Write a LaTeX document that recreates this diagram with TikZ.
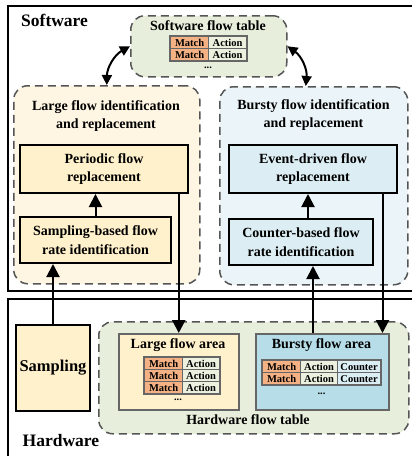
\documentclass[tikz,border=0pt]{standalone}
\usepackage{fontspec}
\setmainfont{Liberation Serif}
\usetikzlibrary{arrows.meta,calc}
\definecolor{swgreen}{HTML}{E8EEDC}
\definecolor{lfbg}{HTML}{FEF5E2}
\definecolor{bfbg}{HTML}{EBF4F8}
\definecolor{orbox}{HTML}{FFF1CC}
\definecolor{blbox}{HTML}{DCEEF4}
\definecolor{bfarea}{HTML}{B7DEE8}
\definecolor{matchc}{HTML}{F4B183}
\definecolor{actc}{HTML}{EBF1DE}
\definecolor{cntc}{HTML}{DBEEF4}
\definecolor{tgray}{HTML}{666666}
\definecolor{dgray}{HTML}{555555}
\begin{document}
\begin{tikzpicture}[x=1pt,y=-1pt,
  lbl/.style={font=\fontsize{14}{18.5}\selectfont\bfseries, align=center, inner sep=0pt},
  big/.style={font=\fontsize{17.5}{20}\selectfont\bfseries, inner sep=0pt},
  dbox/.style={draw=dgray, dash pattern=on 8pt off 5pt, line width=1.5pt, rounded corners=14pt, anchor=north west, inner sep=0pt},
  sbox/.style={draw=black, line width=2pt, anchor=north west, inner sep=0pt, align=center, font=\fontsize{14}{18.5}\selectfont\bfseries},
  abox/.style={draw=tgray, line width=1.5pt, anchor=north west, inner sep=0pt},
  cell/.style={draw=tgray, line width=1.2pt, minimum width=38pt, minimum height=12pt, inner sep=0pt, anchor=north west, font=\fontsize{10.5}{11}\selectfont\bfseries},
  tframe/.style={draw=tgray, line width=2pt},
  arr/.style={line width=2pt, -{Triangle[width=13pt,length=13pt]}},
  darr/.style={line width=2pt, {Triangle[width=10pt,length=10pt]}-{Triangle[width=10pt,length=10pt]}},
  dots/.style={font=\fontsize{10.5}{11}\selectfont\bfseries, inner sep=0pt}
]
\useasboundingbox (0,0) rectangle (412,456);
\begin{scope}
  \clip (0,0) rectangle (412,456);
  \draw[line width=2pt] (8,5.5) rectangle (440,290.5);
  \draw[line width=2pt] (8,299) rectangle (440,480);
\end{scope}

% labels
\node[big, anchor=west] (swlbl) at (21,20) {Software};
\node[big, anchor=west] (hwlbl) at (22.5,441) {Hardware};

% software flow table
\node[dbox, fill=swgreen, minimum width=156pt, minimum height=61pt] (swt) at (130,15) {};
\node[lbl] (swtt) at (208,26) {Software flow table};
\node[cell, fill=matchc] (s11) at (170,36) {Match};
\node[cell, fill=actc] (s12) at (208,36) {Action};
\node[cell, fill=matchc] (s21) at (170,48) {Match};
\node[cell, fill=actc] (s22) at (208,48) {Action};
\draw[tframe] (s11.north west) rectangle (s22.south east);
\node[dots] (swdots) at (208,68) {...};

% large flow identification region
\node[dbox, fill=lfbg, minimum width=186pt, minimum height=198pt] (lfid) at (13,85) {};
\node[lbl] (lfidt) at (106,116) {Large flow identification\\and replacement};
\node[sbox, fill=orbox, minimum width=168pt, minimum height=48pt] (per) at (19,144) {Periodic flow\\replacement};
\node[sbox, fill=orbox, minimum width=151pt, minimum height=46pt] (sbfr) at (19,216) {Sampling-based flow\\rate identification};

% bursty flow identification region
\node[dbox, fill=bfbg, minimum width=188pt, minimum height=198pt] (bfid) at (219,86) {};
\node[lbl] (bfidt) at (313.5,115) {Bursty flow identification\\and replacement};
\node[sbox, fill=blbox, minimum width=168pt, minimum height=48pt] (edfr) at (228,144) {Event-driven flow\\replacement};
\node[sbox, fill=blbox, minimum width=144pt, minimum height=46pt] (cbfr) at (228,218) {Counter-based flow\\rate identification};

% curved arrows
\coordinate (bfidtop) at ($(bfid.north)+(-8,0)$);
\draw[darr] (lfid.north) to[bend left=30] (swt.west);
\draw[darr] (bfidtop) to[bend right=30] (swt.east);

% hardware
\node[sbox, fill=orbox, minimum width=74pt, minimum height=86pt, font=\fontsize{16.5}{19}\selectfont\bfseries] (samp) at (15,324) {Sampling};
\node[dbox, fill=swgreen, minimum width=310pt, minimum height=112pt] (hwt) at (98,321) {};
\node[lbl] (hwtt) at (248,420) {Hardware flow table};
\node[abox, fill=orbox, minimum width=120pt, minimum height=76pt] (lfa) at (118,333) {};
\node[lbl] (lfat) at (178,345) {Large flow area};
\node[abox, fill=bfarea, minimum width=133pt, minimum height=76pt] (bfa) at (255,333) {};
\node[lbl] (bfat) at (321.5,345) {Bursty flow area};

% large flow area table
\foreach \r/\y in {1/357,2/369,3/381}{
  \node[cell, fill=matchc] (l\r1) at (144,\y) {Match};
  \node[cell, fill=actc, minimum width=37pt] (l\r2) at (182,\y) {Action};
}
\draw[tframe] (l11.north west) rectangle (l32.south east);
\node[dots] (ldots) at (178,400) {...};

% bursty flow area table
\foreach \r/\y in {1/360,2/372}{
  \node[cell, fill=matchc] (b\r1) at (262,\y) {Match};
  \node[cell, fill=actc, minimum width=37pt] (b\r2) at (300,\y) {Action};
  \node[cell, fill=cntc, minimum width=43pt] (b\r3) at (337,\y) {Counter};
}
\draw[tframe] (b11.north west) rectangle (b23.south east);
\node[dots] (bdots) at (321.5,394) {...};

% vertical arrows
\draw[arr] (samp.north) -- (samp.north |- sbfr.south);
\draw[arr] (sbfr.north) -- (sbfr.north |- per.south);
\coordinate (cbtop) at ($(cbfr.north)+(7,0)$);
\draw[arr] (cbtop) -- (cbtop |- edfr.south);
\draw[arr] (per.south -| lfa.north) -- (lfa.north);
\coordinate (b1) at ($(bfa.north west)+(58,0)$);
\draw[arr] (b1) -- (b1 |- cbfr.south);
\coordinate (b2) at ($(bfa.north east)+(-7,0)$);
\draw[arr] (edfr.south -| b2) -- (b2);
\end{tikzpicture}
\end{document}
